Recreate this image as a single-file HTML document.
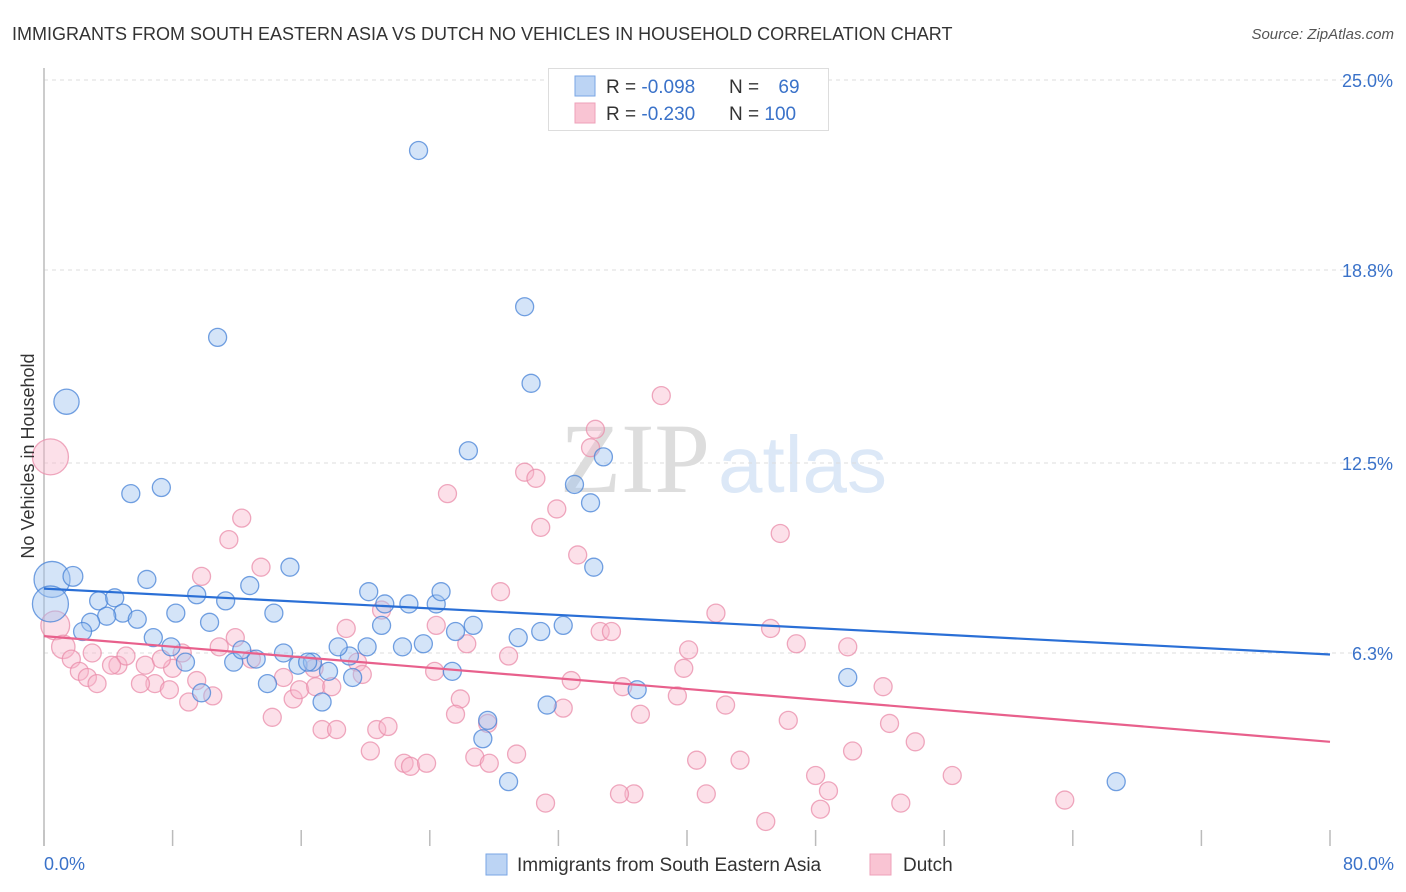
<!DOCTYPE html>
<html><head><meta charset="utf-8"><style>
body{margin:0;background:#fff;font-family:"Liberation Sans",sans-serif;}
#wrap{position:relative;width:1406px;height:892px;overflow:hidden;}
</style></head><body>
<div id="wrap">
<svg id="svg" width="1406" height="892">
<text x="12" y="40" font-size="18" fill="#333">IMMIGRANTS FROM SOUTH EASTERN ASIA VS DUTCH NO VEHICLES IN HOUSEHOLD CORRELATION CHART</text>
<text x="1394" y="39" font-size="15" fill="#555" font-style="italic" text-anchor="end">Source: ZipAtlas.com</text>
<text x="560" y="492" font-size="100" fill="#ddd" font-family="Liberation Serif,serif">ZIP</text>
<text x="718" y="492" font-size="80" fill="#dce8f7">atlas</text>
<g id="grid"></g>
<g id="axes"></g>
<g id="pts"></g>
<g id="trend"></g>
<text transform="translate(34,456) rotate(-90)" font-size="18" fill="#333" text-anchor="middle">No Vehicles in Household</text>
<text x="44" y="870" font-size="18" fill="#3a72c9">0.0%</text>
<text x="1394" y="870" font-size="18" fill="#3a72c9" text-anchor="end">80.0%</text>
<g>
<rect x="548.5" y="68.5" width="280" height="62" fill="#fff" stroke="#ddd"/>
<rect x="575" y="76" width="20" height="20" fill="#bcd4f4" stroke="#7aa6e4"/>
<rect x="575" y="103" width="20" height="20" fill="#f9c4d3" stroke="#eea0b8"/>
<text x="606" y="93" font-size="19" fill="#333">R = <tspan fill="#3a72c9">-0.098</tspan></text>
<text x="729" y="93" font-size="19" fill="#333">N = <tspan fill="#3a72c9" dx="14">69</tspan></text>
<text x="606" y="120" font-size="19" fill="#333">R = <tspan fill="#3a72c9">-0.230</tspan></text>
<text x="729" y="120" font-size="19" fill="#333">N = <tspan fill="#3a72c9">100</tspan></text>
</g>
<g>
<rect x="486" y="854" width="21" height="21" fill="#bcd4f4" stroke="#7aa6e4"/>
<text x="517" y="871" font-size="19" fill="#333">Immigrants from South Eastern Asia</text>
<rect x="870" y="854" width="21" height="21" fill="#f9c4d3" stroke="#eea0b8"/>
<text x="903" y="871" font-size="19" fill="#333">Dutch</text>
</g>
</svg>
</div>
<script>
const yTicks=[25.0,18.8,12.5,6.3];
const yTickLabels=["25.0%","18.8%","12.5%","6.3%"];
const xTickVals=[0,8,16,24,32,40,48,56,64,72,80];
const blueX=[23.3,29.9,10.8,30.3,1.4,26.4,34.8,5.4,7.3,33.0,34.0,0.5,1.8,6.4,34.2,15.3,12.8,0.4,3.4,4.4,4.9,3.9,2.9,5.8,9.5,11.3,8.2,10.3,14.3,20.2,21.2,22.7,24.4,24.7,26.7,25.6,21.0,2.4,6.8,7.9,8.8,11.8,13.2,12.3,14.9,15.8,16.7,17.7,19.0,18.3,20.1,22.3,23.6,25.4,29.5,30.9,32.3,19.2,17.3,13.9,9.8,27.6,27.3,31.3,36.9,50.0,28.9,66.7,16.4];
const blueY=[22.7,17.6,16.6,15.1,14.5,12.9,12.7,11.5,11.7,11.8,11.2,8.7,8.8,8.7,9.1,9.1,8.5,7.9,8.0,8.1,7.6,7.5,7.3,7.4,8.2,8.0,7.6,7.3,7.6,8.3,7.9,7.9,7.9,8.3,7.2,7.0,7.2,7.0,6.8,6.5,6.0,6.0,6.1,6.4,6.3,5.9,6.0,5.7,6.2,6.5,6.5,6.5,6.6,5.7,6.8,7.0,7.2,5.5,4.7,5.3,5.0,4.1,3.5,4.6,5.1,5.5,2.1,2.1,6.0];
const blueSize=[1,1,1,1,1.4,1,1,1,1,1,1,2,1.1,1,1,1,1,2,1,1,1,1,1,1,1,1,1,1,1,1,1,1,1,1,1,1,1,1,1,1,1,1,1,1,1,1,1,1,1,1,1,1,1,1,1,1,1,1,1,1,1,1,1,1,1,1,1,1,1];
const pinkX=[0.4,0.7,1.2,1.7,2.2,2.7,3.3,4.6,5.1,4.2,6.3,6.9,6.0,7.8,9.0,10.5,9.5,8.0,7.3,11.5,12.3,9.8,13.5,11.9,12.9,10.9,14.9,14.2,15.5,15.9,16.9,16.8,17.9,18.8,19.5,19.8,17.3,18.2,20.7,21.4,20.3,22.4,22.8,23.8,21.0,24.4,24.3,26.3,25.1,28.4,28.9,25.9,25.6,27.6,26.8,27.7,29.4,31.2,29.9,30.6,31.9,30.9,33.2,34.0,34.3,38.4,34.6,35.3,32.8,32.3,37.1,36.0,39.8,40.1,41.8,39.4,42.4,40.6,43.3,41.2,36.7,35.8,44.9,45.8,45.2,46.8,50.0,52.2,46.3,50.3,54.2,52.6,48.0,48.8,48.3,53.3,56.5,63.5,3.0,8.6];
const pinkY=[12.7,7.2,6.5,6.1,5.7,5.5,5.3,5.9,6.2,5.9,5.9,5.3,5.3,5.1,4.7,4.9,5.4,5.8,6.1,10.0,10.7,8.8,9.1,6.8,6.1,6.5,5.5,4.2,4.8,5.1,5.2,5.8,5.2,7.1,6.0,5.6,3.8,3.8,3.8,3.9,3.1,2.7,2.6,2.7,7.7,7.2,5.7,6.6,11.5,8.3,6.2,4.8,4.3,4.0,2.9,2.7,3.0,1.4,12.2,12.0,11.0,10.4,9.5,13.0,13.6,14.7,7.0,7.0,5.4,4.5,4.3,5.2,5.8,6.4,7.6,4.9,4.6,2.8,2.8,1.7,1.7,1.7,0.8,10.2,7.1,6.6,6.5,5.2,4.1,3.1,3.4,4.0,2.3,1.8,1.2,1.4,2.3,1.5,6.3,6.3];
const pinkSize=[2,1.6,1.3,1,1,1,1,1,1,1,1,1,1,1,1,1,1,1,1,1,1,1,1,1,1,1,1,1,1,1,1,1,1,1,1,1,1,1,1,1,1,1,1,1,1,1,1,1,1,1,1,1,1,1,1,1,1,1,1,1,1,1,1,1,1,1,1,1,1,1,1,1,1,1,1,1,1,1,1,1,1,1,1,1,1,1,1,1,1,1,1,1,1,1,1,1,1,1,1,1];
const blueTrend=[8.4,6.25];
const pinkTrend=[6.85,3.4];
const X0=44,X1=1330,Y0=846,Y25=80;
function sx(v){return X0+(v/80)*(X1-X0);}
function sy(v){return Y0-(v/25)*(Y0-Y25);}
const NS="http://www.w3.org/2000/svg";
function mk(tag,attrs,parent){const e=document.createElementNS(NS,tag);for(const k in attrs)e.setAttribute(k,attrs[k]);parent.appendChild(e);return e;}
const grid=document.getElementById('grid'),axes=document.getElementById('axes'),pts=document.getElementById('pts'),trend=document.getElementById('trend');
yTicks.forEach((t,i)=>{
  const l=mk('line',{x1:44,x2:1394,y1:sy(t),y2:sy(t),stroke:'#ddd','stroke-dasharray':'4,4'},grid);
  
  
  const tx=mk('text',{x:1393,y:sy(t)+7,'font-size':18,fill:'#3a72c9','text-anchor':'end'},axes);
  tx.textContent=yTickLabels[i];
  
  
});
const ax=mk('line',{x1:44,x2:44,y1:68,y2:846,stroke:'#bbb','stroke-width':1.5},axes);


xTickVals.forEach(v=>{
  const t=mk('line',{x1:sx(v),x2:sx(v),y1:830,y2:846,stroke:'#bbb','stroke-width':1.5},axes);
  
  
});
function drawSeries(xs,ys,sz,fill,stroke,name){
  xs.forEach((x,i)=>{
    const c=mk('circle',{cx:sx(x),cy:sy(ys[i]),r:9*sz[i],fill:fill,stroke:stroke,'stroke-width':1.3},pts);
    
    
  });
}
drawSeries(pinkX,pinkY,pinkSize,'rgba(248,182,202,0.42)','rgba(234,140,170,0.75)','dutch-point');
drawSeries(blueX,blueY,blueSize,'rgba(160,196,240,0.45)','rgba(70,130,215,0.75)','sea-immigrants-point');
const bl=mk('line',{x1:sx(0),x2:sx(80),y1:sy(blueTrend[0]),y2:sy(blueTrend[1]),stroke:'#2a6fd6','stroke-width':2.2},trend);


const pl=mk('line',{x1:sx(0),x2:sx(80),y1:sy(pinkTrend[0]),y2:sy(pinkTrend[1]),stroke:'#e8608c','stroke-width':2.2},trend);


</script>
</body></html>
